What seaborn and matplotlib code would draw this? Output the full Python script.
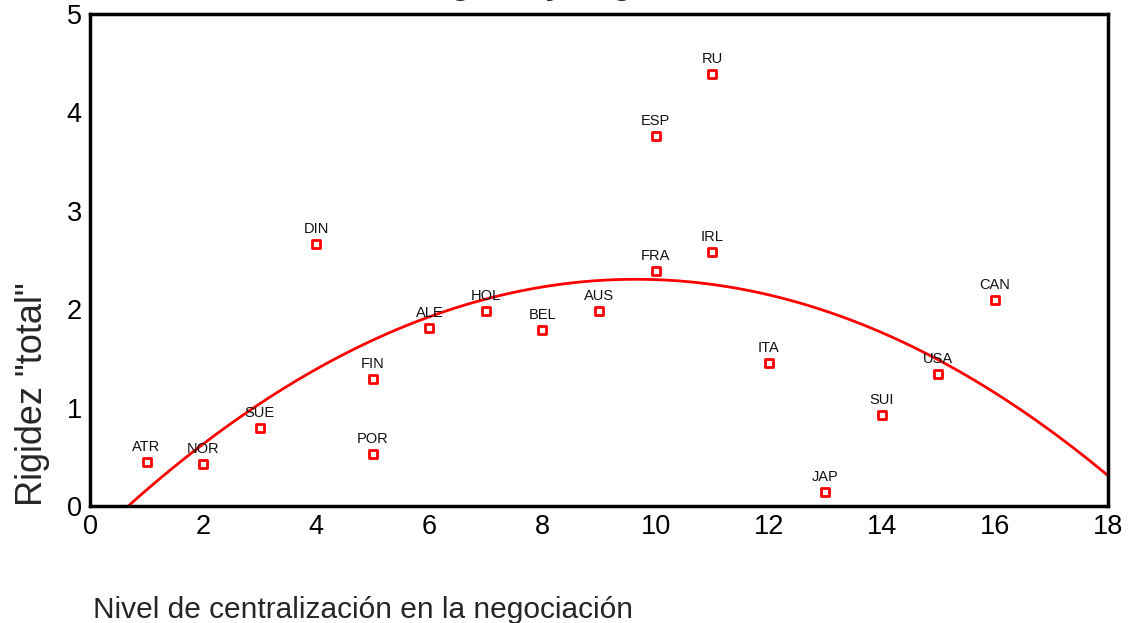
import matplotlib
matplotlib.use('Agg')
import matplotlib.pyplot as plt
import seaborn as sns
import pandas as pd

# Datos
paises = ['ATR', 'NOR', 'SUE', 'DIN', 'POR', 'FIN', 'ALE', 'HOL', 'BEL', 'AUS',
          'FRA', 'ESP', 'RU', 'IRL', 'ITA', 'JAP', 'SUI', 'USA', 'CAN']
centralizacion = [1, 2, 3, 4, 5, 5, 6, 7, 8, 9, 10, 10, 11, 11, 12, 13, 14, 15, 16]
rigidez = [0.45, 0.43, 0.79, 2.66, 0.53, 1.29, 1.81, 1.98, 1.79, 1.98,
           2.39, 3.76, 4.39, 2.58, 1.45, 0.14, 0.92, 1.34, 2.09]

df = pd.DataFrame({'pais': paises, 'x': centralizacion, 'y': rigidez})

sns.set_style('white')
plt.rcParams['font.family'] = ['Liberation Sans', 'DejaVu Sans']

fig = plt.figure(figsize=(11.31, 6.23), dpi=100)
ax = fig.add_axes([0.0796, 0.1878, 0.9001, 0.7897])
ax.set_xlim(0, 18)
ax.set_ylim(0, 5)

# Ajuste cuadrático (se extiende a todo el eje x)
sns.regplot(data=df, x='x', y='y', order=2, ci=None, scatter=False,
            truncate=False, color='red', line_kws={'linewidth': 2}, ax=ax)
sns.scatterplot(data=df, x='x', y='y', marker='s', s=34, color='white',
                edgecolor='red', linewidth=2, zorder=5, ax=ax)

for _, row in df.iterrows():
    ax.annotate(row['pais'], (row['x'], row['y']), xytext=(0, 8),
                textcoords='offset points', ha='center', va='baseline',
                fontsize=10.5, color='#111111')

ax.set_xlim(0, 18)
ax.set_ylim(0, 5)
ax.set_xticks(range(0, 19, 2))
ax.set_yticks(range(0, 6))
ax.tick_params(axis='both', direction='out', length=3, width=6,
               labelsize=19.5, colors='black', pad=3)
for sp in ax.spines.values():
    sp.set_linewidth(2.5)
    sp.set_color('black')

ax.set_xlabel('Nivel de centralización en la negociación', fontsize=21.5,
              labelpad=40, ha='left', x=0.003)
ax.set_ylabel('Rigidez "total"', fontsize=26, labelpad=12, loc='bottom')

fig.text(0.524, 1.009, 'Rigidez y negociación', ha='center', va='baseline',
         fontsize=24, fontweight='bold')

fig.savefig('out.png', dpi=100)
